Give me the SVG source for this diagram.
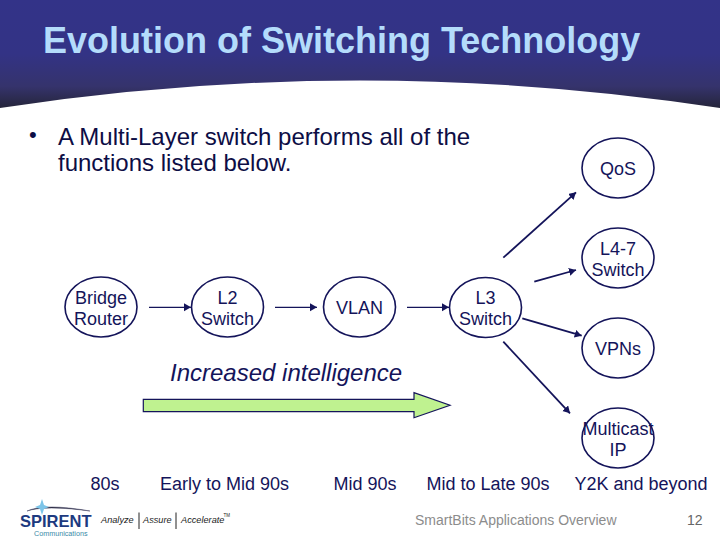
<svg xmlns="http://www.w3.org/2000/svg" width="720" height="540" viewBox="0 0 720 540">
<style>
text{font-family:"Liberation Sans",Arial,sans-serif;fill:#14145a}
.n{font-size:18px;text-anchor:middle}
.t{font-size:18px;text-anchor:middle}
.b{font-size:24px;fill:#0d0d45}
.e{fill:#fff;stroke:#14145a;stroke-width:1.6}
.c{fill:none;stroke:#14145a;stroke-width:1.2;marker-end:url(#a)}
.d{stroke-width:1.8}
.s{font-size:9.200px;font-style:italic;fill:#222}
</style>
<defs>
<linearGradient id="h" gradientUnits="userSpaceOnUse" x1="0" y1="0" x2="0" y2="108"><stop offset="0" stop-color="#333388"/><stop offset=".5" stop-color="#333385"/><stop offset=".8" stop-color="#35336c"/><stop offset="1" stop-color="#25253a"/></linearGradient>
<marker id="a" markerUnits="userSpaceOnUse" markerWidth="10" markerHeight="10" refX="7" refY="4" orient="auto"><path d="M0 0L7 4L0 8Z" fill="#14145a"/></marker>
</defs>
<rect width="720" height="540" fill="#fff"/>
<path d="M0 108Q360 53 720 108V0H0Z" fill="url(#h)"/>
<text x="43" y="53" style="font-size:36px;font-weight:bold;fill:#b4dcfb">Evolution of Switching Technology</text>
<text x="29" y="142" style="font-size:22px;fill:#0d0d45">•</text>
<text x="58" y="145" class="b">A Multi-Layer switch performs all of the</text>
<text x="58" y="171" class="b">functions listed below.</text>
<g id="connectors">
<path class="c" d="M149 307.300H191"/>
<path class="c" d="M275 307.300H317"/>
<path class="c" d="M407 307.300H449"/>
<path class="c d" d="M503.300 257.700L576 192.300"/>
<path class="c d" d="M534.300 281.700L576 270"/>
<path class="c d" d="M522.300 318.300L581.700 335.700"/>
<path class="c d" d="M503.300 341.700L570 413.300"/>
</g>
<g id="bridge"><ellipse class="e" cx="101" cy="307" rx="36" ry="30"/><text class="n" x="101" y="304">Bridge</text><text class="n" x="101" y="324.500">Router</text></g>
<g id="l2"><ellipse class="e" cx="227.500" cy="307" rx="36" ry="30"/><text class="n" x="227.500" y="304">L2</text><text class="n" x="227.500" y="324.500">Switch</text></g>
<g id="vlan"><ellipse class="e" cx="359.500" cy="307" rx="36" ry="30"/><text class="n" x="359.500" y="314">VLAN</text></g>
<g id="l3"><ellipse class="e" cx="485.500" cy="307.500" rx="36" ry="30"/><text class="n" x="485.500" y="304">L3</text><text class="n" x="485.500" y="324.500">Switch</text></g>
<g id="qos"><ellipse class="e" cx="618" cy="168" rx="36" ry="30"/><text class="n" x="618" y="174.500">QoS</text></g>
<g id="l47"><ellipse class="e" cx="618" cy="258" rx="36" ry="30"/><text class="n" x="618" y="254.500">L4-7</text><text class="n" x="618" y="275.500">Switch</text></g>
<g id="vpns"><ellipse class="e" cx="618" cy="348" rx="36" ry="30"/><text class="n" x="618" y="354.500">VPNs</text></g>
<g id="multicast"><ellipse class="e" cx="618" cy="438" rx="36" ry="30"/><text class="n" x="618" y="434.500">Multicast</text><text class="n" x="618" y="455.500">IP</text></g>
<text x="170" y="381" style="font-size:24px;font-style:italic">Increased intelligence</text>
<path id="bar" d="M143.300 399.300H414V392.700L450 405.300L414 417.700V411.700H143.300Z" fill="#bff290" stroke="#14145a" stroke-width="1.200"/>
<text class="t" x="105" y="489.500">80s</text>
<text class="t" x="224.500" y="489.500">Early to Mid 90s</text>
<text class="t" x="365" y="489.500">Mid 90s</text>
<text class="t" x="488" y="489.500">Mid to Late 90s</text>
<text class="t" x="641" y="489.500">Y2K and beyond</text>
<g id="logo">
<path d="M27 511Q45 505 90 511Q45 503 27 511Z" fill="#223" stroke="#446" stroke-width=".5"/>
<path d="M42 499L44 505L49 507L44 509L42 515L40 509L35 507L40 505Z" fill="#7cc4e8"/>
<text x="20" y="526.500" style="font-size:16.500px;font-weight:bold;fill:#1d3a80">SPIRENT</text>
<text x="34" y="535.500" style="font-size:7.200px;fill:#3a8aa8">Communications</text>
</g>
<text class="s" x="101" y="523">Analyze</text>
<path d="M139 512.500V529M176 512.500V529" stroke="#222" stroke-width="1"/>
<text class="s" x="143" y="523">Assure</text>
<text class="s" x="181" y="523">Accelerate</text>
<text x="223.500" y="517" style="font-size:4.500px;fill:#222">TM</text>
<text x="415" y="525" style="font-size:14px;fill:#8c8c8c">SmartBits Applications Overview</text>
<text x="687" y="525" style="font-size:14px;fill:#666">12</text>
</svg>
